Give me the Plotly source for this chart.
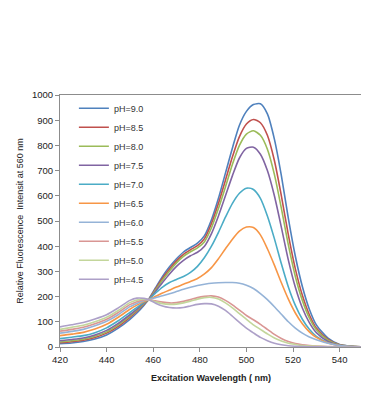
import plotly.graph_objects as go

wavelength = [420, 425, 430, 435, 440, 445, 450, 453, 456, 458, 461, 464, 467, 470, 473, 476, 479,
              482, 485, 488, 491, 494, 497, 500, 503, 506, 509, 512, 515, 518, 521, 524, 527, 530,
              535, 540, 545, 550]

ph_labels = ["pH=9.0", "pH=8.5", "pH=8.0", "pH=7.5", "pH=7.0",
             "pH=6.5", "pH=6.0", "pH=5.5", "pH=5.0", "pH=4.5"]

ph_9_0 = [13, 16, 22, 32, 48, 75, 110, 135, 165, 188, 235, 280, 318, 350, 377, 395, 412, 442, 505, 590,
          690, 790, 880, 935, 962, 965, 925, 825, 680, 510, 360, 240, 150, 88, 35, 10, 3, 1]
ph_8_5 = [17, 21, 27, 38, 55, 82, 118, 142, 170, 188, 230, 273, 310, 342, 368, 386, 402, 430, 490, 570,
          662, 755, 835, 885, 903, 890, 840, 740, 600, 445, 310, 205, 128, 75, 30, 9, 3, 1]
ph_8_0 = [20, 25, 31, 43, 60, 88, 123, 146, 173, 188, 226, 266, 302, 334, 360, 378, 393, 418, 473, 550,
          635, 725, 800, 845, 858, 840, 785, 685, 550, 405, 280, 185, 115, 68, 27, 8, 3, 1]
ph_7_5 = [25, 30, 36, 48, 66, 94, 128, 150, 176, 188, 220, 256, 290, 320, 344, 362, 376, 400, 450, 520,
          600, 680, 750, 788, 793, 765, 700, 600, 475, 345, 237, 155, 97, 57, 22, 7, 2, 1]
ph_7_0 = [33, 39, 45, 57, 76, 104, 137, 157, 178, 188, 214, 238, 256, 268, 280, 296, 320, 355, 400, 455,
          515, 570, 610, 630, 625, 590, 520, 430, 330, 238, 165, 110, 70, 42, 17, 6, 2, 1]
ph_6_5 = [45, 51, 58, 71, 90, 118, 150, 166, 180, 188, 201, 214, 226, 238, 249, 260, 272, 290, 315, 350,
          390, 428, 460, 476, 474, 445, 390, 325, 255, 190, 135, 92, 60, 38, 16, 6, 2, 1]
ph_6_0 = [55, 62, 70, 84, 102, 128, 160, 173, 184, 188, 196, 203, 211, 220, 229, 237, 244, 249, 253, 255,
          256, 256, 253, 245, 232, 212, 188, 160, 130, 100, 75, 55, 40, 29, 15, 6, 2, 1]
ph_5_5 = [63, 70, 78, 92, 110, 137, 168, 180, 187, 188, 183, 178, 175, 176, 181, 188, 196, 201, 203, 198,
          185, 167, 146, 125, 108, 90, 70, 50, 34, 22, 14, 9, 6, 4, 2, 1, 0, 0]
ph_5_0 = [70, 78, 86, 100, 118, 145, 176, 186, 190, 188, 179, 172, 169, 170, 175, 182, 190, 196, 197, 190,
          175, 155, 132, 110, 88, 70, 52, 36, 24, 15, 10, 6, 4, 3, 1, 1, 0, 0]
ph_4_5 = [80, 88, 97, 111, 128, 155, 185, 194, 193, 188, 174, 163, 157, 155, 157, 163, 169, 172, 171, 162,
          145, 122, 98, 75, 56, 38, 25, 15, 9, 5, 3, 2, 1, 1, 0, 0, 0, 0]

series = [ph_9_0, ph_8_5, ph_8_0, ph_7_5, ph_7_0, ph_6_5, ph_6_0, ph_5_5, ph_5_0, ph_4_5]
colors = ["#4F81BD", "#C0504D", "#9BBB59", "#8064A2", "#4BACC6",
          "#F79646", "#95B3D7", "#D99694", "#C3D69B", "#ADA0C8"]

x_ticks = [420, 440, 460, 480, 500, 520, 540]
y_ticks = list(range(0, 1001, 100))

fig = go.Figure()
for name, vals, col in zip(ph_labels, series, colors):
    fig.add_trace(go.Scatter(
        x=wavelength, y=vals, name=name, mode="lines",
        line=dict(color=col, width=1.6, shape="spline", smoothing=0.7),
    ))

font_family = "Liberation Sans, Arial, sans-serif"

fig.update_layout(
    width=369, height=420,
    margin=dict(l=43, r=15, t=87, b=81),
    paper_bgcolor="white", plot_bgcolor="white",
    showlegend=True,
    legend=dict(
        x=0.046, y=1.005, xanchor="left", yanchor="top",
        bgcolor="rgba(0,0,0,0)", borderwidth=0,
        font=dict(family=font_family, size=9, color="#333333"),
        itemwidth=30, tracegroupgap=0,
    ),
    font=dict(family=font_family, size=9, color="#222222"),
)

fig.update_xaxes(
    range=[420, 549.6], tickvals=x_ticks, ticktext=[str(t) for t in x_ticks],
    showgrid=False, zeroline=False,
    showline=True, linecolor="#8C8C8C", linewidth=1, mirror=True,
    ticks="outside", ticklen=4, tickcolor="#8C8C8C",
    tickfont=dict(family=font_family, size=9.5, color="#222222"),
    title=dict(text="<b>Excitation Wavelength ( nm)</b>",
               font=dict(family=font_family, size=9, color="#222222"), standoff=10),
)
fig.update_yaxes(
    range=[0, 1000], tickvals=y_ticks, ticktext=[str(t) for t in y_ticks],
    showgrid=False, zeroline=False,
    showline=True, linecolor="#8C8C8C", linewidth=1, mirror=True,
    ticks="outside", ticklen=4, tickcolor="#8C8C8C",
    tickfont=dict(family=font_family, size=9.5, color="#222222"),
    title=dict(text="Relative Fluorescence  Intensit at 560 nm",
               font=dict(family=font_family, size=9, color="#222222"), standoff=6),
)

fig.write_html("out.html")
